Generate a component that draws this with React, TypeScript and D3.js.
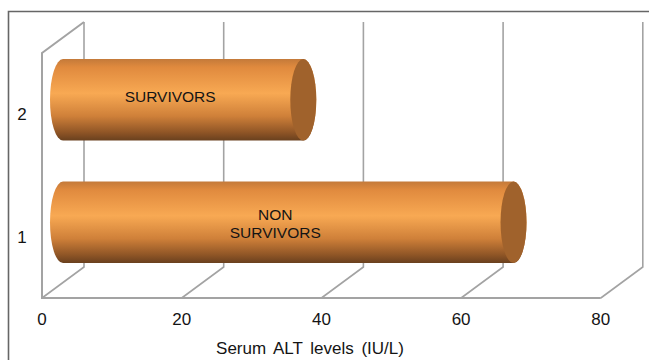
import React from "react";
import * as d3 from "d3";

const categories = ["1", "2"];
const values = [64.5, 34.4];
const barLabels = [["NON", "SURVIVORS"], ["SURVIVORS"]];
const xTicks = [0, 20, 40, 60, 80];

const W = 649;
const H = 360;
const floorY = 298;
const wallTop = 53;
const depth = { dx: 42, dy: -31 };
const barLift = -14.4;
const barHeight = 81.5;
const capRx = 13;
const labelShift = 13;
const font = "'Liberation Sans', Arial, sans-serif";
const gridColor = "#a3a3a3";
const ink = "#141414";

export default function App() {
  const x = d3.scaleLinear().domain([0, 80]).range([42, 600.8]);
  const y = d3.scaleBand().domain(categories).range([floorY, wallTop]);

  return (
    <svg
      width={W}
      height={H}
      style={{ position: "absolute", left: 0, top: 0, background: "#fff" }}
    >
      <defs>
        <linearGradient id="barBody" x1="0" y1="0" x2="0" y2="1">
          <stop offset="0" stopColor="#c47a3a" />
          <stop offset="0.1" stopColor="#e08a3e" />
          <stop offset="0.42" stopColor="#f8a953" />
          <stop offset="0.7" stopColor="#cf8039" />
          <stop offset="0.9" stopColor="#8f5526" />
          <stop offset="1" stopColor="#69401e" />
        </linearGradient>
      </defs>

      {/* outer frame: open at the right and bottom edges */}
      <path
        d={`M8.5,${H} V11.5 H${W}`}
        fill="none"
        stroke="#666"
        strokeWidth={1.6}
      />

      {/* back wall gridlines and floor lines */}
      {xTicks.map((t) => (
        <path
          key={t}
          d={`M${x(t)},${floorY} L${x(t) + depth.dx},${floorY + depth.dy} V${22}`}
          fill="none"
          stroke={gridColor}
          strokeWidth={1.6}
        />
      ))}
      <path
        d={`M${x(0) + depth.dx},22 L${x(0)},${wallTop} V${floorY} H${x(80)}`}
        fill="none"
        stroke={gridColor}
        strokeWidth={2}
      />

      {/* cylinders sit halfway into the depth of the chart */}
      {categories.map((c, i) => {
        const cy = y(c)! + y.bandwidth() / 2 + barLift;
        const x0 = x(0) + depth.dx / 2;
        const x1 = x(values[i]) + depth.dx / 2;
        const ry = barHeight / 2;
        const body =
          `M${x0},${cy - ry} L${x1},${cy - ry} ` +
          `A${capRx},${ry} 0 0 1 ${x1},${cy + ry} L${x0},${cy + ry} ` +
          `A${capRx},${ry} 0 0 1 ${x0},${cy - ry} Z`;
        const lines = barLabels[i];
        const textX = (x0 + x1) / 2 - labelShift;
        const firstBaseline = lines.length === 2 ? cy - 2 : cy + 2.5;
        return (
          <g key={c}>
            <path d={body} fill="url(#barBody)" />
            <ellipse cx={x1} cy={cy} rx={capRx} ry={ry} fill="#a0622c" />
            {lines.map((line, k) => (
              <text
                key={k}
                x={textX}
                y={firstBaseline + k * 18}
                textAnchor="middle"
                fontFamily={font}
                fontSize={15.5}
                fill={ink}
              >
                {line}
              </text>
            ))}
          </g>
        );
      })}

      {/* category labels */}
      {categories.map((c) => (
        <text
          key={c}
          x={22}
          y={y(c)! + y.bandwidth() / 2 + 6}
          textAnchor="middle"
          fontFamily={font}
          fontSize={17}
          fill={ink}
        >
          {c}
        </text>
      ))}

      {/* value axis labels */}
      {xTicks.map((t) => (
        <text
          key={t}
          x={x(t)}
          y={325}
          textAnchor="middle"
          fontFamily={font}
          fontSize={17}
          fill={ink}
        >
          {t}
        </text>
      ))}
      <text
        x={310}
        y={354}
        textAnchor="middle"
        fontFamily={font}
        fontSize={17}
        wordSpacing={3}
        fill={ink}
      >
        Serum ALT levels (IU/L)
      </text>
    </svg>
  );
}
